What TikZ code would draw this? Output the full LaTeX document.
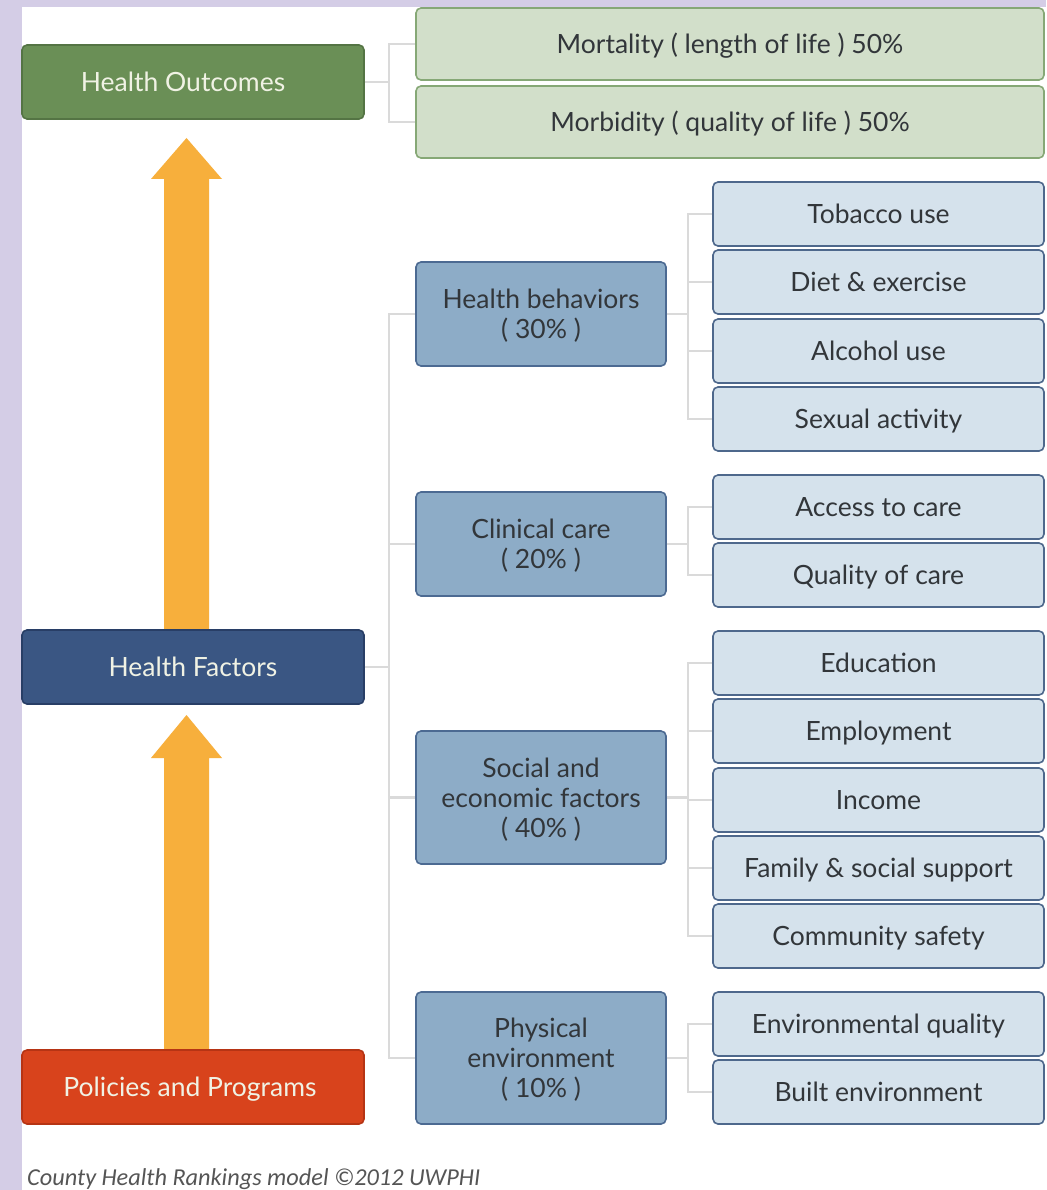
\documentclass[tikz,border=0pt]{standalone}
\usepackage{fontspec}
\setmainfont{Lato}
\newfontfamily\capfont{Carlito}
\definecolor{bgl}{RGB}{212,205,230}
\definecolor{conn}{RGB}{218,218,218}
\definecolor{arr}{RGB}{247,175,60}
\definecolor{hoF}{RGB}{106,143,86}
\definecolor{hoD}{RGB}{84,116,68}
\definecolor{hfF}{RGB}{58,86,131}
\definecolor{hfD}{RGB}{40,62,102}
\definecolor{ppF}{RGB}{216,67,28}
\definecolor{ppD}{RGB}{182,52,20}
\definecolor{grF}{RGB}{210,223,202}
\definecolor{grD}{RGB}{134,168,118}
\definecolor{mbF}{RGB}{141,172,199}
\definecolor{mbD}{RGB}{76,106,146}
\definecolor{lbF}{RGB}{213,226,236}
\definecolor{lbD}{RGB}{78,104,140}
\definecolor{txtD}{RGB}{50,54,58}
\definecolor{txtL}{RGB}{240,242,228}
\tikzset{
  base/.style={rectangle, rounded corners=5pt, inner sep=0pt, line width=1.6pt,
    font=\fontsize{26.5}{30}\selectfont, align=center},
  oneline/.style={base, text height=19pt, text depth=0pt},
  leftbox/.style={oneline, minimum width=342pt, minimum height=74pt, text=txtL},
  greenbox/.style={oneline, minimum width=628pt, minimum height=72pt, fill=grF, draw=grD, text=txtD},
  midbox/.style={base, text depth=0pt, minimum width=250pt, fill=mbF, draw=mbD, text=txtD},
  leafbox/.style={oneline, minimum width=331pt, minimum height=64pt, fill=lbF, draw=lbD, text=txtD},
  link/.style={draw=conn, line width=2.2pt},
}
\begin{document}
\begin{tikzpicture}[x=1pt,y=-1pt]
\useasboundingbox (0,0) rectangle (1046,1190);
\fill[bgl] (0,0) rectangle (1046,1190);
\fill[white] (22,7) rectangle (1046,1190);

% orange arrows
\fill[arr] (164,640) -- (164,179) -- (151,179) -- (186.5,138) -- (222,179) -- (209,179) -- (209,640) -- cycle;
\fill[arr] (164,1060) -- (164,758) -- (151,758) -- (186.5,715) -- (222,758) -- (209,758) -- (209,1060) -- cycle;

% left column
\node[leftbox, fill=hoF, draw=hoD] (HO) at (193,82) {\hspace*{-20pt}Health Outcomes};
\node[leftbox, fill=hfF, draw=hfD] (HF) at (193,667) {Health Factors};
\node[leftbox, fill=ppF, draw=ppD] (PP) at (193,1087) {\hspace*{-6pt}Policies and Programs};

% outcomes
\node[greenbox] (mort) at (730,44) {Mortality ( length of life ) 50\%};
\node[greenbox] (morb) at (730,122) {Morbidity ( quality of life ) 50\%};

% middle
\node[midbox, minimum height=104pt] (hb) at (541,314) {Health behaviors\\( 30\% )};
\node[midbox, minimum height=104pt] (cc) at (541,544) {Clinical care\\( 20\% )};
\node[midbox, minimum height=133pt] (se) at (541,797.5) {Social and\\economic factors\\( 40\% )};
\node[midbox, minimum height=132pt] (pe) at (541,1058) {Physical\\environment\\( 10\% )};

% leaves
\node[leafbox] (tob) at (878.5,214) {Tobacco use};
\node[leafbox] (diet) at (878.5,282) {Diet \& exercise};
\node[leafbox] (alc) at (878.5,351) {Alcohol use};
\node[leafbox] (sex) at (878.5,419) {Sexual activity};
\node[leafbox] (acc) at (878.5,507) {Access to care};
\node[leafbox] (qual) at (878.5,575) {Quality of care};
\node[leafbox] (edu) at (878.5,663) {Education};
\node[leafbox] (emp) at (878.5,731) {Employment};
\node[leafbox] (inc) at (878.5,800) {Income};
\node[leafbox] (fam) at (878.5,868) {Family \& social support};
\node[leafbox] (com) at (878.5,936) {Community safety};
\node[leafbox] (envq) at (878.5,1024) {Environmental quality};
\node[leafbox] (built) at (878.5,1092) {Built environment};

% connectors
\draw[link] (HO.east) -- ++(24,0) coordinate (jo);
\draw[link] (jo) |- (mort.west);
\draw[link] (jo) |- (morb.west);

\draw[link] (HF.east) -- ++(24,0) coordinate (jf);
\foreach \t in {hb,cc,se,pe} \draw[link] (jf) |- (\t.west);

\draw[link] (hb.east) -- ++(21,0) coordinate (jb);
\foreach \t in {tob,diet,alc,sex} \draw[link] (jb) |- (\t.west);
\draw[link] (cc.east) -- ++(21,0) coordinate (jc);
\foreach \t in {acc,qual} \draw[link] (jc) |- (\t.west);
\draw[link] (se.east) -- ++(21,0) coordinate (js);
\foreach \t in {edu,emp,inc,fam,com} \draw[link] (js) |- (\t.west);
\draw[link] (pe.east) -- ++(21,0) coordinate (jp);
\foreach \t in {envq,built} \draw[link] (jp) |- (\t.west);

\node[anchor=base west, font=\capfont\itshape\fontsize{24.3}{28}\selectfont, text={rgb,255:red,85;green,85;blue,85}, inner sep=0pt] (cap) at (27,1185) {County Health Rankings model ©2012 UWPHI};
\end{tikzpicture}
\end{document}
